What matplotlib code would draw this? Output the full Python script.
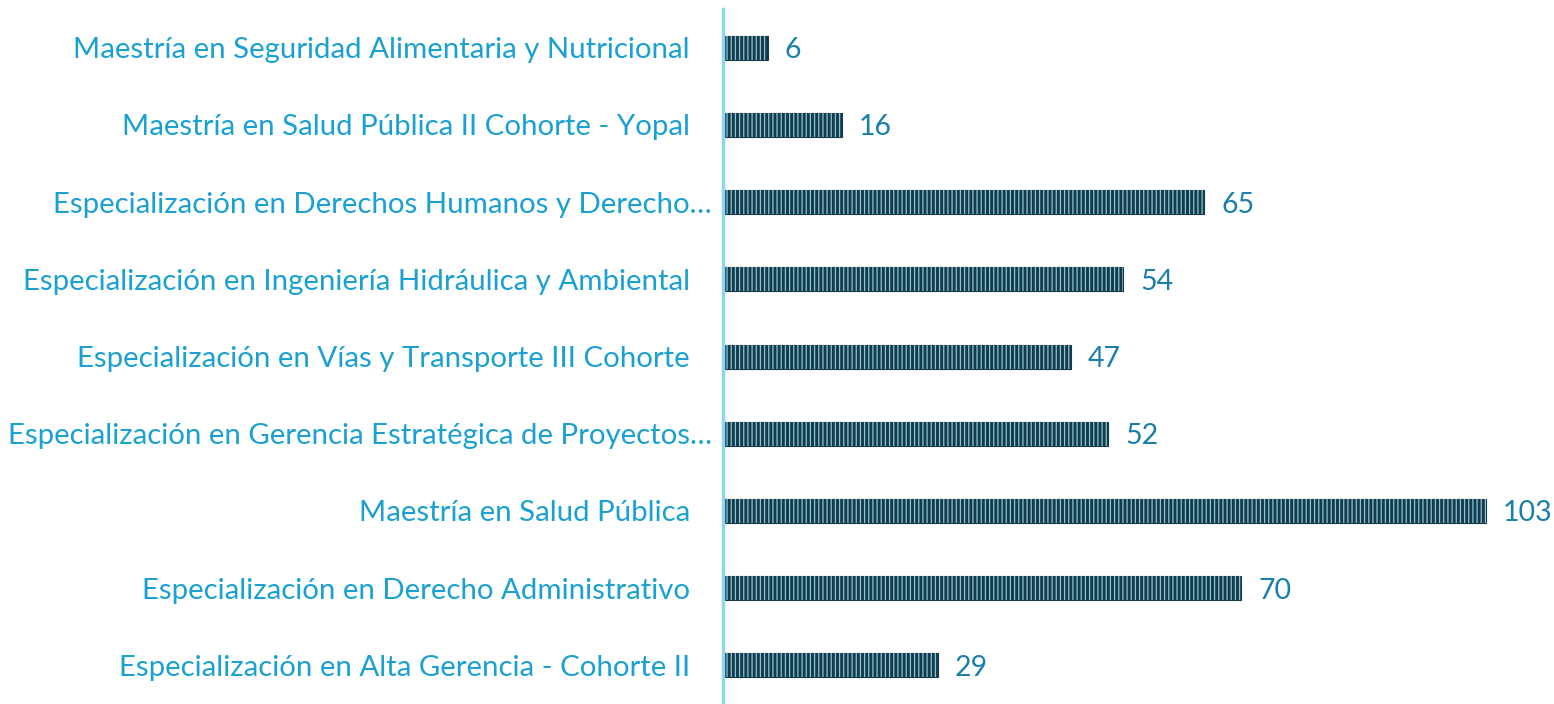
import matplotlib
matplotlib.use('Agg')
import matplotlib.pyplot as plt
from matplotlib.transforms import ScaledTranslation

programas = [
    "Maestría en Seguridad Alimentaria y Nutricional",
    "Maestría en Salud Pública II Cohorte - Yopal",
    "Especialización en Derechos Humanos y Derecho…",
    "Especialización en Ingeniería Hidráulica y Ambiental",
    "Especialización en Vías y Transporte III Cohorte",
    "Especialización en Gerencia Estratégica de Proyectos…",
    "Maestría en Salud Pública",
    "Especialización en Derecho Administrativo",
    "Especialización en Alta Gerencia - Cohorte II",
]
valores = [6, 16, 65, 54, 47, 52, 103, 70, 29]

plt.rcParams['font.family'] = ['Lato', 'DejaVu Sans']
plt.rcParams['hatch.linewidth'] = 0.9

fig = plt.figure(figsize=(15.54, 7.04), dpi=100)
ax = fig.add_axes([0.4653, 0.0, 0.5347, 0.987])

pos = list(range(len(valores)))
ax.barh(pos, valores, height=0.31, color='#163a48', edgecolor='#163a48', linewidth=0.8)
ax.barh(pos, valores, height=0.31, color='none', edgecolor='#86c6dc',
        linewidth=0, hatch='||||')

# small downward nudge so text centres line up with the bars
down = ScaledTranslation(0, -0.025, fig.dpi_scale_trans)
for y, v in zip(pos, valores):
    ax.text(v + 2.3, y, str(v), va='center', ha='left', fontsize=20.5,
            color='#1b7fab', transform=ax.transData + down)

# category labels: truncated ones (with ellipsis) sit closer to the axis
base = ax.get_yaxis_transform()
for y, lab in zip(pos, programas):
    off = -11 if lab.endswith('…') else -33
    tr = base + ScaledTranslation(off / 100, -0.025, fig.dpi_scale_trans)
    ax.text(0, y, lab, transform=tr, ha='right', va='center',
            fontsize=21.2, color='#1aa0d2')

ax.set_ylim(len(valores) - 0.5, -0.5)
ax.set_xlim(0, 112.2)
ax.set_yticks([])
ax.set_xticks([])
for s in ['top', 'right', 'bottom']:
    ax.spines[s].set_visible(False)
ax.spines['left'].set_color('#8fd6f0')
ax.spines['left'].set_linewidth(2.5)

fig.savefig('out.png', dpi=100)
